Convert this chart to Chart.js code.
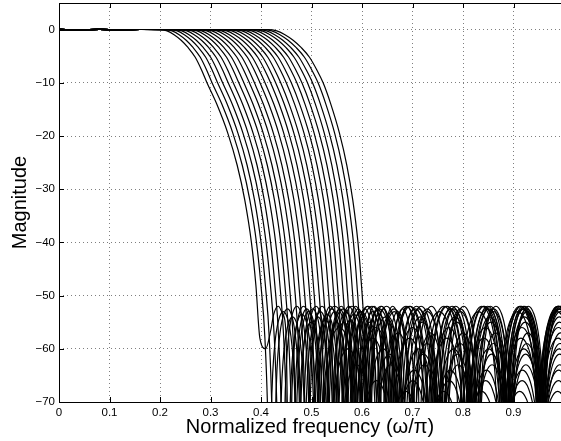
<!DOCTYPE html>
<html>
<head>
<meta charset="utf-8">
<script src="https://cdn.jsdelivr.net/npm/chart.js@4/dist/chart.umd.min.js"></script>
<style>
  html, body { margin: 0; padding: 0; background: #fff; overflow: hidden; }
  canvas { display: block; }
</style>
</head>
<body>
<canvas id="chart" width="561" height="441"></canvas>
<script>
// axis ticks
const xTicks = [0, 0.1, 0.2, 0.3, 0.4, 0.5, 0.6, 0.7, 0.8, 0.9];
const yTicks = [0, -10, -20, -30, -40, -50, -60, -70];

// where each response leaves 0 dB, crosses -10 dB and crosses -40 dB
const x0 = [0.200, 0.210, 0.220, 0.229, 0.239, 0.249, 0.259, 0.268, 0.278, 0.288, 0.298, 0.307,
            0.317, 0.327, 0.337, 0.347, 0.356, 0.366, 0.376, 0.386, 0.395, 0.405, 0.415];
const x10 = [0.293, 0.303, 0.314, 0.324, 0.335, 0.345, 0.356, 0.366, 0.377, 0.387, 0.398, 0.408,
             0.419, 0.429, 0.439, 0.450, 0.460, 0.471, 0.481, 0.492, 0.502, 0.513, 0.523];
const x40 = [0.381, 0.391, 0.400, 0.410, 0.419, 0.429, 0.439, 0.448, 0.458, 0.467, 0.477, 0.487,
             0.496, 0.506, 0.515, 0.525, 0.535, 0.544, 0.554, 0.563, 0.573, 0.583, 0.592];

// depth of the first stopband null of each response (dB)
const firstNullDb = [-60, -110, -110, -110, -110, -110, -110, -110, -110, -110, -110, -110,
                     -110, -110, -110, -110, -110, -110, -110, -110, -110, -110, -110];

// peak level of the two lobes next to the transition band (dB)
const nearPeak = [-52, -53, -52.5, -54, -52, -53.5, -52.5, -55, -52, -53, -54.5, -52,
                  -53, -52.5, -55, -52, -53.5, -52.5, -54, -52, -53, -52.5, -52];
// peak level of the far stopband lobes (dB)
const lobePeak = [-52, -56, -52.5, -60, -52, -63, -53, -52, -58, -66, -52, -54,
                  -61, -52.5, -57, -68, -52, -64, -52.5, -55, -59, -52, -53];

// passband ripple (dB)
const passX = [0, 0.04, 0.08, 0.12, 0.16];
const passDb = [0.06, -0.08, 0.04, -0.06, 0.02];

// upper knee: fraction of the way from the 0 dB point to the -10 dB crossing, and level
const kneeV = [0, 0.15, 0.3, 0.45, 0.6, 0.75, 0.88, 1];
const kneeDb = [0, -0.25, -0.95, -2.0, -3.4, -5.2, -7.5, -10];

// lower slope: position between the -10 and -40 dB crossings, and level
const rollU = [0.22, 0.47, 0.68, 0.85, 1.0, 1.1, 1.19, 1.26];
const rollDb = [-14, -19.5, -25.5, -32, -40, -48, -58, -75];
const nullU = 1.32;

// one stopband lobe: position across the lobe and level under its peak
const lobeT = [0, 0.02, 0.06, 0.12, 0.2, 0.32, 0.5, 0.68, 0.8, 0.88, 0.94, 0.98];
const lobeDrop = [-60, -25, -14, -8.5, -4.6, -1.5, 0, -1.5, -4.6, -8.5, -14, -25];
const nearLobeWidth = 0.05;
const lobeWidth = 0.07;
const lobeEnd = 1.025;

function pushLobe(pts, start, width, peak, skipFirst, floor) {
  lobeT.forEach((t, i) => {
    const y = peak + lobeDrop[i];
    if (skipFirst && (i === 0 || y < floor)) return;
    pts.push({ x: start + t * width, y });
  });
}

function buildCurve(k) {
  const pts = [];
  passX.forEach((x, i) => { if (x < x0[k] - 0.01) pts.push({ x, y: passDb[i] }); });
  kneeV.forEach((v, i) => pts.push({ x: x0[k] + v * (x10[k] - x0[k]), y: kneeDb[i] }));
  const w = x40[k] - x10[k];
  rollU.forEach((u, i) => {
    if (rollDb[i] > firstNullDb[k]) pts.push({ x: x10[k] + u * w, y: rollDb[i] });
  });
  const n0 = x10[k] + nullU * w;
  pts.push({ x: n0, y: firstNullDb[k] });
  // two narrower lobes next to the transition band
  pushLobe(pts, n0, nearLobeWidth, nearPeak[k], true, firstNullDb[k]);
  pushLobe(pts, n0 + nearLobeWidth, nearLobeWidth, nearPeak[k], false, 0);
  // remaining lobes up to the Nyquist end
  const s = n0 + 2 * nearLobeWidth;
  const n = Math.max(1, Math.round((lobeEnd - s) / lobeWidth));
  const lw = (lobeEnd - s) / n;
  for (let j = 0; j < n; j++) pushLobe(pts, s + j * lw, lw, lobePeak[k], false, 0);
  pts.push({ x: lobeEnd, y: -112 });
  return pts;
}

const datasets = x10.map((_, k) => ({
  data: buildCurve(k),
  borderColor: '#000',
  borderWidth: 1.2,
  pointRadius: 0,
  fill: false,
  cubicInterpolationMode: 'monotone'
}));

const font = '"Liberation Sans", Arial, Helvetica, sans-serif';

// MATLAB-like box with inward tick marks
const boxPlugin = {
  id: 'box',
  afterDatasetsDraw(chart) {
    const { ctx, chartArea: a, scales: { x, y } } = chart;
    ctx.save();
    ctx.strokeStyle = '#000';
    ctx.lineWidth = 1;
    ctx.beginPath();
    ctx.moveTo(a.left + 0.5, a.top + 0.5);
    ctx.lineTo(a.right + 2, a.top + 0.5);
    ctx.moveTo(a.left + 0.5, a.top);
    ctx.lineTo(a.left + 0.5, a.bottom + 0.5);
    ctx.lineTo(a.right + 2, a.bottom + 0.5);
    xTicks.forEach(v => {
      const px = Math.round(x.getPixelForValue(v)) + 0.5;
      ctx.moveTo(px, a.bottom);
      ctx.lineTo(px, a.bottom - 5);
      ctx.moveTo(px, a.top);
      ctx.lineTo(px, a.top + 5);
    });
    yTicks.forEach(v => {
      const py = Math.round(y.getPixelForValue(v)) + 0.5;
      ctx.moveTo(a.left, py);
      ctx.lineTo(a.left + 5, py);
    });
    ctx.stroke();
    ctx.restore();
  }
};

new Chart(document.getElementById('chart'), {
  type: 'line',
  data: { datasets },
  options: {
    responsive: false,
    animation: false,
    events: [],
    layout: { padding: { top: 3, right: 0, left: 0, bottom: 0 } },
    plugins: { legend: { display: false }, tooltip: { enabled: false } },
    scales: {
      x: {
        type: 'linear',
        min: 0,
        max: 0.994,
        afterBuildTicks: s => { s.ticks = xTicks.map(v => ({ value: v })); },
        afterFit: s => { s.height = 39; s.paddingLeft = 0; s.paddingRight = 0; },
        border: { display: false, dash: [1, 3] },
        grid: { color: 'rgba(0,0,0,0.5)', tickLength: 0, drawTicks: false },
        ticks: {
          color: '#000',
          padding: 4,
          maxRotation: 0,
          font: { family: font, size: 11.5 },
          callback: v => String(v)
        },
        title: {
          display: true,
          text: 'Normalized frequency (ω/π)',
          color: '#000',
          font: { family: font, size: 20 },
          padding: { top: 0, bottom: 2 }
        }
      },
      y: {
        min: -70,
        max: 5,
        afterBuildTicks: s => { s.ticks = yTicks.map(v => ({ value: v })); },
        afterFit: s => { s.width = 59; s.paddingTop = 0; s.paddingBottom = 0; },
        border: { display: false, dash: [1, 3] },
        grid: { color: 'rgba(0,0,0,0.5)', tickLength: 0, drawTicks: false },
        ticks: {
          color: '#000',
          padding: 4,
          font: { family: font, size: 11.5 },
          callback: v => (v < 0 ? '\u2212' + Math.abs(v) : String(v))
        },
        title: {
          display: true,
          text: 'Magnitude',
          color: '#000',
          font: { family: font, size: 20 },
          padding: { top: 8, bottom: 0 }
        }
      }
    }
  },
  plugins: [boxPlugin]
});
</script>
</body>
</html>
